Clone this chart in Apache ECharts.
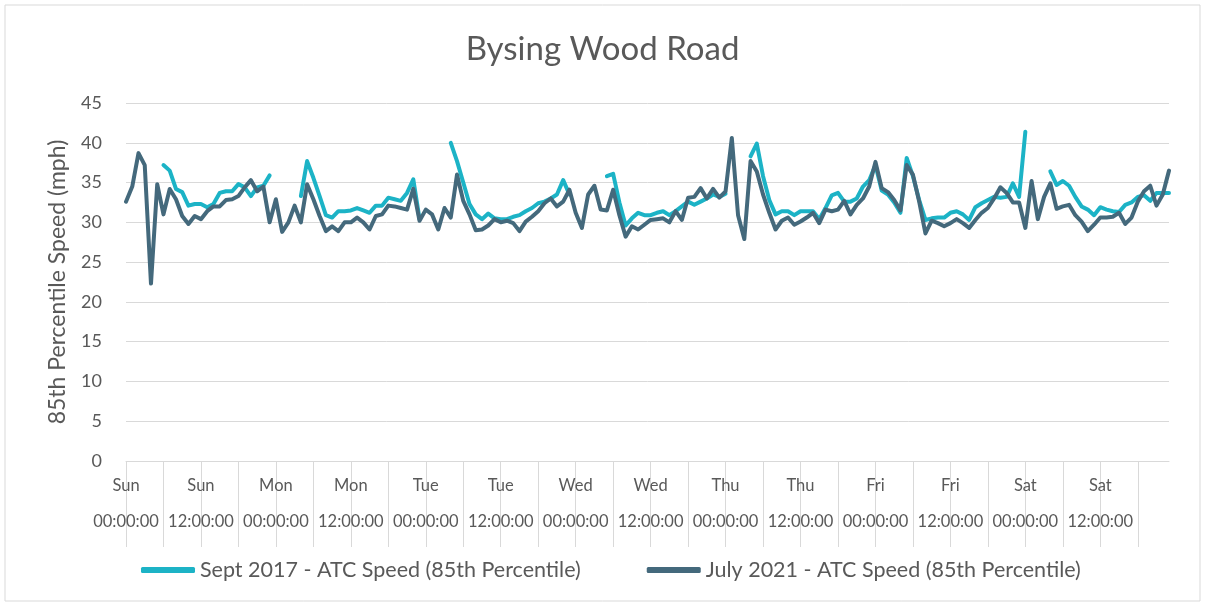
<!DOCTYPE html>
<html>
<head>
<meta charset="utf-8">
<title>Bysing Wood Road</title>
<script src="https://cdn.jsdelivr.net/npm/echarts@6/dist/echarts.min.js"></script>
<style>
  html, body { margin: 0; padding: 0; background: #fff; }
  #chart { width: 1205px; height: 606px; }
</style>
</head>
<body>
<div id="chart"></div>
<script>
// days of the week, hourly categories are built from these
const days = ["Sun", "Mon", "Tue", "Wed", "Thu", "Fri", "Sat"];
const hours = [
  "00:00:00", "01:00:00", "02:00:00", "03:00:00", "04:00:00", "05:00:00",
  "06:00:00", "07:00:00", "08:00:00", "09:00:00", "10:00:00", "11:00:00",
  "12:00:00", "13:00:00", "14:00:00", "15:00:00", "16:00:00", "17:00:00",
  "18:00:00", "19:00:00", "20:00:00", "21:00:00", "22:00:00", "23:00:00"
];
const yTicks = [0, 5, 10, 15, 20, 25, 30, 35, 40, 45];

// 85th percentile speed, one value per hour (null = no data)
const sept2017 = [
  null, null, null, null, null, null, 37.2, 36.5, 34.2, 33.8, 32.1, 32.3,
  32.3, 31.9, 32.3, 33.7, 33.9, 33.9, 34.8, 34.4, 33.3, 34.4, 34.6, 35.9,
  null, null, null, null, 33.3, 37.7, 35.6, 33.3, 30.9, 30.6, 31.4, 31.4,
  31.5, 31.8, 31.5, 31.2, 32.1, 32.1, 33.1, 32.9, 32.7, 33.7, 35.4, 30.4,
  null, null, null, null, 40.0, 37.7, 35.0, 32.3, 31.0, 30.4, 31.1, 30.5,
  30.4, 30.4, 30.7, 30.9, 31.4, 31.8, 32.4, 32.6, 33.0, 33.5, 35.3, 33.5,
  null, null, null, null, null, 35.8, 36.1, 32.5, 29.6, 30.5, 31.2, 30.9,
  30.9, 31.2, 31.4, 30.9, 31.4, 32.0, 32.6, 32.2, 32.6, 33.0, 33.5, 33.2,
  33.6, null, null, null, 38.3, 39.9, 35.8, 32.8, 31.0, 31.4, 31.4, 30.9,
  31.4, 31.4, 31.4, 30.4, 31.8, 33.4, 33.7, 32.6, 32.6, 33.0, 34.5, 35.3,
  37.2, 34.0, 33.5, 32.5, 31.2, 38.1, 35.8, 32.8, 30.3, 30.5, 30.6, 30.6,
  31.2, 31.4, 31.0, 30.3, 31.9, 32.4, 32.8, 33.2, 33.1, 33.2, 34.9, 33.2,
  41.4, null, null, null, 36.4, 34.7, 35.2, 34.6, 33.2, 32.0, 31.6, 30.9,
  31.9, 31.6, 31.4, 31.3, 32.2, 32.5, 33.2, 33.4, 32.7, 33.7, 33.7, 33.7
];
const july2021 = [
  32.6, 34.5, 38.7, 37.2, 22.3, 34.8, 31.0, 34.2, 32.9, 30.8, 29.8, 30.8,
  30.4, 31.4, 32.0, 32.0, 32.8, 32.9, 33.3, 34.4, 35.3, 33.9, 34.5, 30.0,
  32.9, 28.8, 30.0, 32.1, 30.0, 34.8, 32.9, 30.8, 28.9, 29.5, 28.9, 30.0,
  30.0, 30.6, 30.0, 29.1, 30.8, 31.0, 32.1, 32.0, 31.8, 31.6, 34.2, 30.2,
  31.6, 31.0, 29.1, 31.8, 30.6, 36.0, 32.7, 31.0, 29.0, 29.1, 29.6, 30.4,
  30.0, 30.2, 29.9, 28.9, 30.1, 30.7, 31.4, 32.4, 33.0, 32.0, 32.6, 34.1,
  31.2, 29.3, 33.5, 34.6, 31.6, 31.5, 34.1, 30.9, 28.2, 29.5, 29.1, 29.7,
  30.3, 30.4, 30.5, 30.0, 31.4, 30.3, 33.1, 33.2, 34.3, 33.0, 34.2, 33.1,
  33.9, 40.6, 30.9, 27.9, 37.7, 36.4, 33.5, 31.2, 29.1, 30.2, 30.6, 29.7,
  30.1, 30.6, 31.2, 29.9, 31.6, 31.4, 31.6, 32.7, 31.0, 32.2, 33.0, 34.5,
  37.6, 34.3, 33.8, 32.8, 31.5, 37.2, 36.0, 32.6, 28.6, 30.2, 29.9, 29.5,
  29.9, 30.4, 29.9, 29.3, 30.3, 31.2, 31.8, 33.0, 34.4, 33.7, 32.5, 32.5,
  29.3, 35.2, 30.4, 33.2, 34.9, 31.7, 32.0, 32.2, 30.9, 30.1, 28.9, 29.7,
  30.6, 30.6, 30.7, 31.2, 29.8, 30.6, 32.6, 33.9, 34.6, 32.1, 33.5, 36.5
];

let categories = [];
days.forEach((d) => {
  hours.forEach((h) => {
    categories.push(d + " " + h);
  });
});

const textColor = "#595959";
const gridColor = "#d9d9d9";
const font = "Lato, 'Open Sans', sans-serif";

var myChart = echarts.init(document.getElementById("chart"), null, {
  renderer: "canvas",
});

let option = {
  animation: false,
  backgroundColor: "#fff",
  textStyle: { fontFamily: font },
  graphic: [
    {
      type: "rect",
      shape: { x: 5, y: 5, width: 1195, height: 596 },
      style: { fill: "none", stroke: gridColor, lineWidth: 1 },
      silent: true,
    },
  ],
  title: {
    text: "Bysing Wood Road",
    left: "center",
    top: 28,
    textStyle: {
      fontFamily: font,
      fontSize: 33,
      fontWeight: "normal",
      color: textColor,
    },
  },
  legend: {
    left: 136,
    top: 554,
    itemGap: 66,
    itemWidth: 54,
    itemHeight: 6,
    icon: "roundRect",
    textStyle: { fontFamily: font, fontSize: 21.5, color: textColor },
    data: [
      "Sept 2017 - ATC Speed (85th Percentile)",
      "July 2021 - ATC Speed (85th Percentile)",
    ],
  },
  grid: {
    left: 126,
    right: 36,
    top: 103,
    bottom: 145,
  },
  xAxis: {
    type: "category",
    boundaryGap: false,
    data: categories,
    axisLine: { lineStyle: { color: gridColor, width: 1 } },
    axisTick: {
      show: true,
      interval: 5,
      length: 86,
      lineStyle: { color: gridColor },
    },
    axisLabel: {
      interval: 11,
      margin: 16,
      fontSize: 16.5,
      lineHeight: 18,
      color: textColor,
      fontFamily: font,
      formatter: (v) => v.replace(" ", "\n\n"),
    },
    splitLine: { show: false },
  },
  yAxis: {
    type: "value",
    min: yTicks[0],
    max: yTicks[yTicks.length - 1],
    interval: 5,
    name: "85th Percentile Speed (mph)",
    nameLocation: "middle",
    nameGap: 57,
    nameTextStyle: { fontFamily: font, fontSize: 23, color: textColor },
    axisLine: { show: false },
    axisTick: { show: false },
    axisLabel: { margin: 24, fontSize: 18, color: textColor, fontFamily: font },
    splitLine: { lineStyle: { color: gridColor, width: 1 } },
  },
  series: [
    {
      name: "Sept 2017 - ATC Speed (85th Percentile)",
      type: "line",
      data: sept2017,
      showSymbol: false,
      connectNulls: false,
      lineStyle: { color: "#1cb3c6", width: 4, join: "round", cap: "round" },
      itemStyle: { color: "#1cb3c6" },
    },
    {
      name: "July 2021 - ATC Speed (85th Percentile)",
      type: "line",
      data: july2021,
      showSymbol: false,
      lineStyle: { color: "#44697c", width: 4, join: "round", cap: "round" },
      itemStyle: { color: "#44697c" },
    },
  ],
};

myChart.setOption(option);
</script>
</body>
</html>
